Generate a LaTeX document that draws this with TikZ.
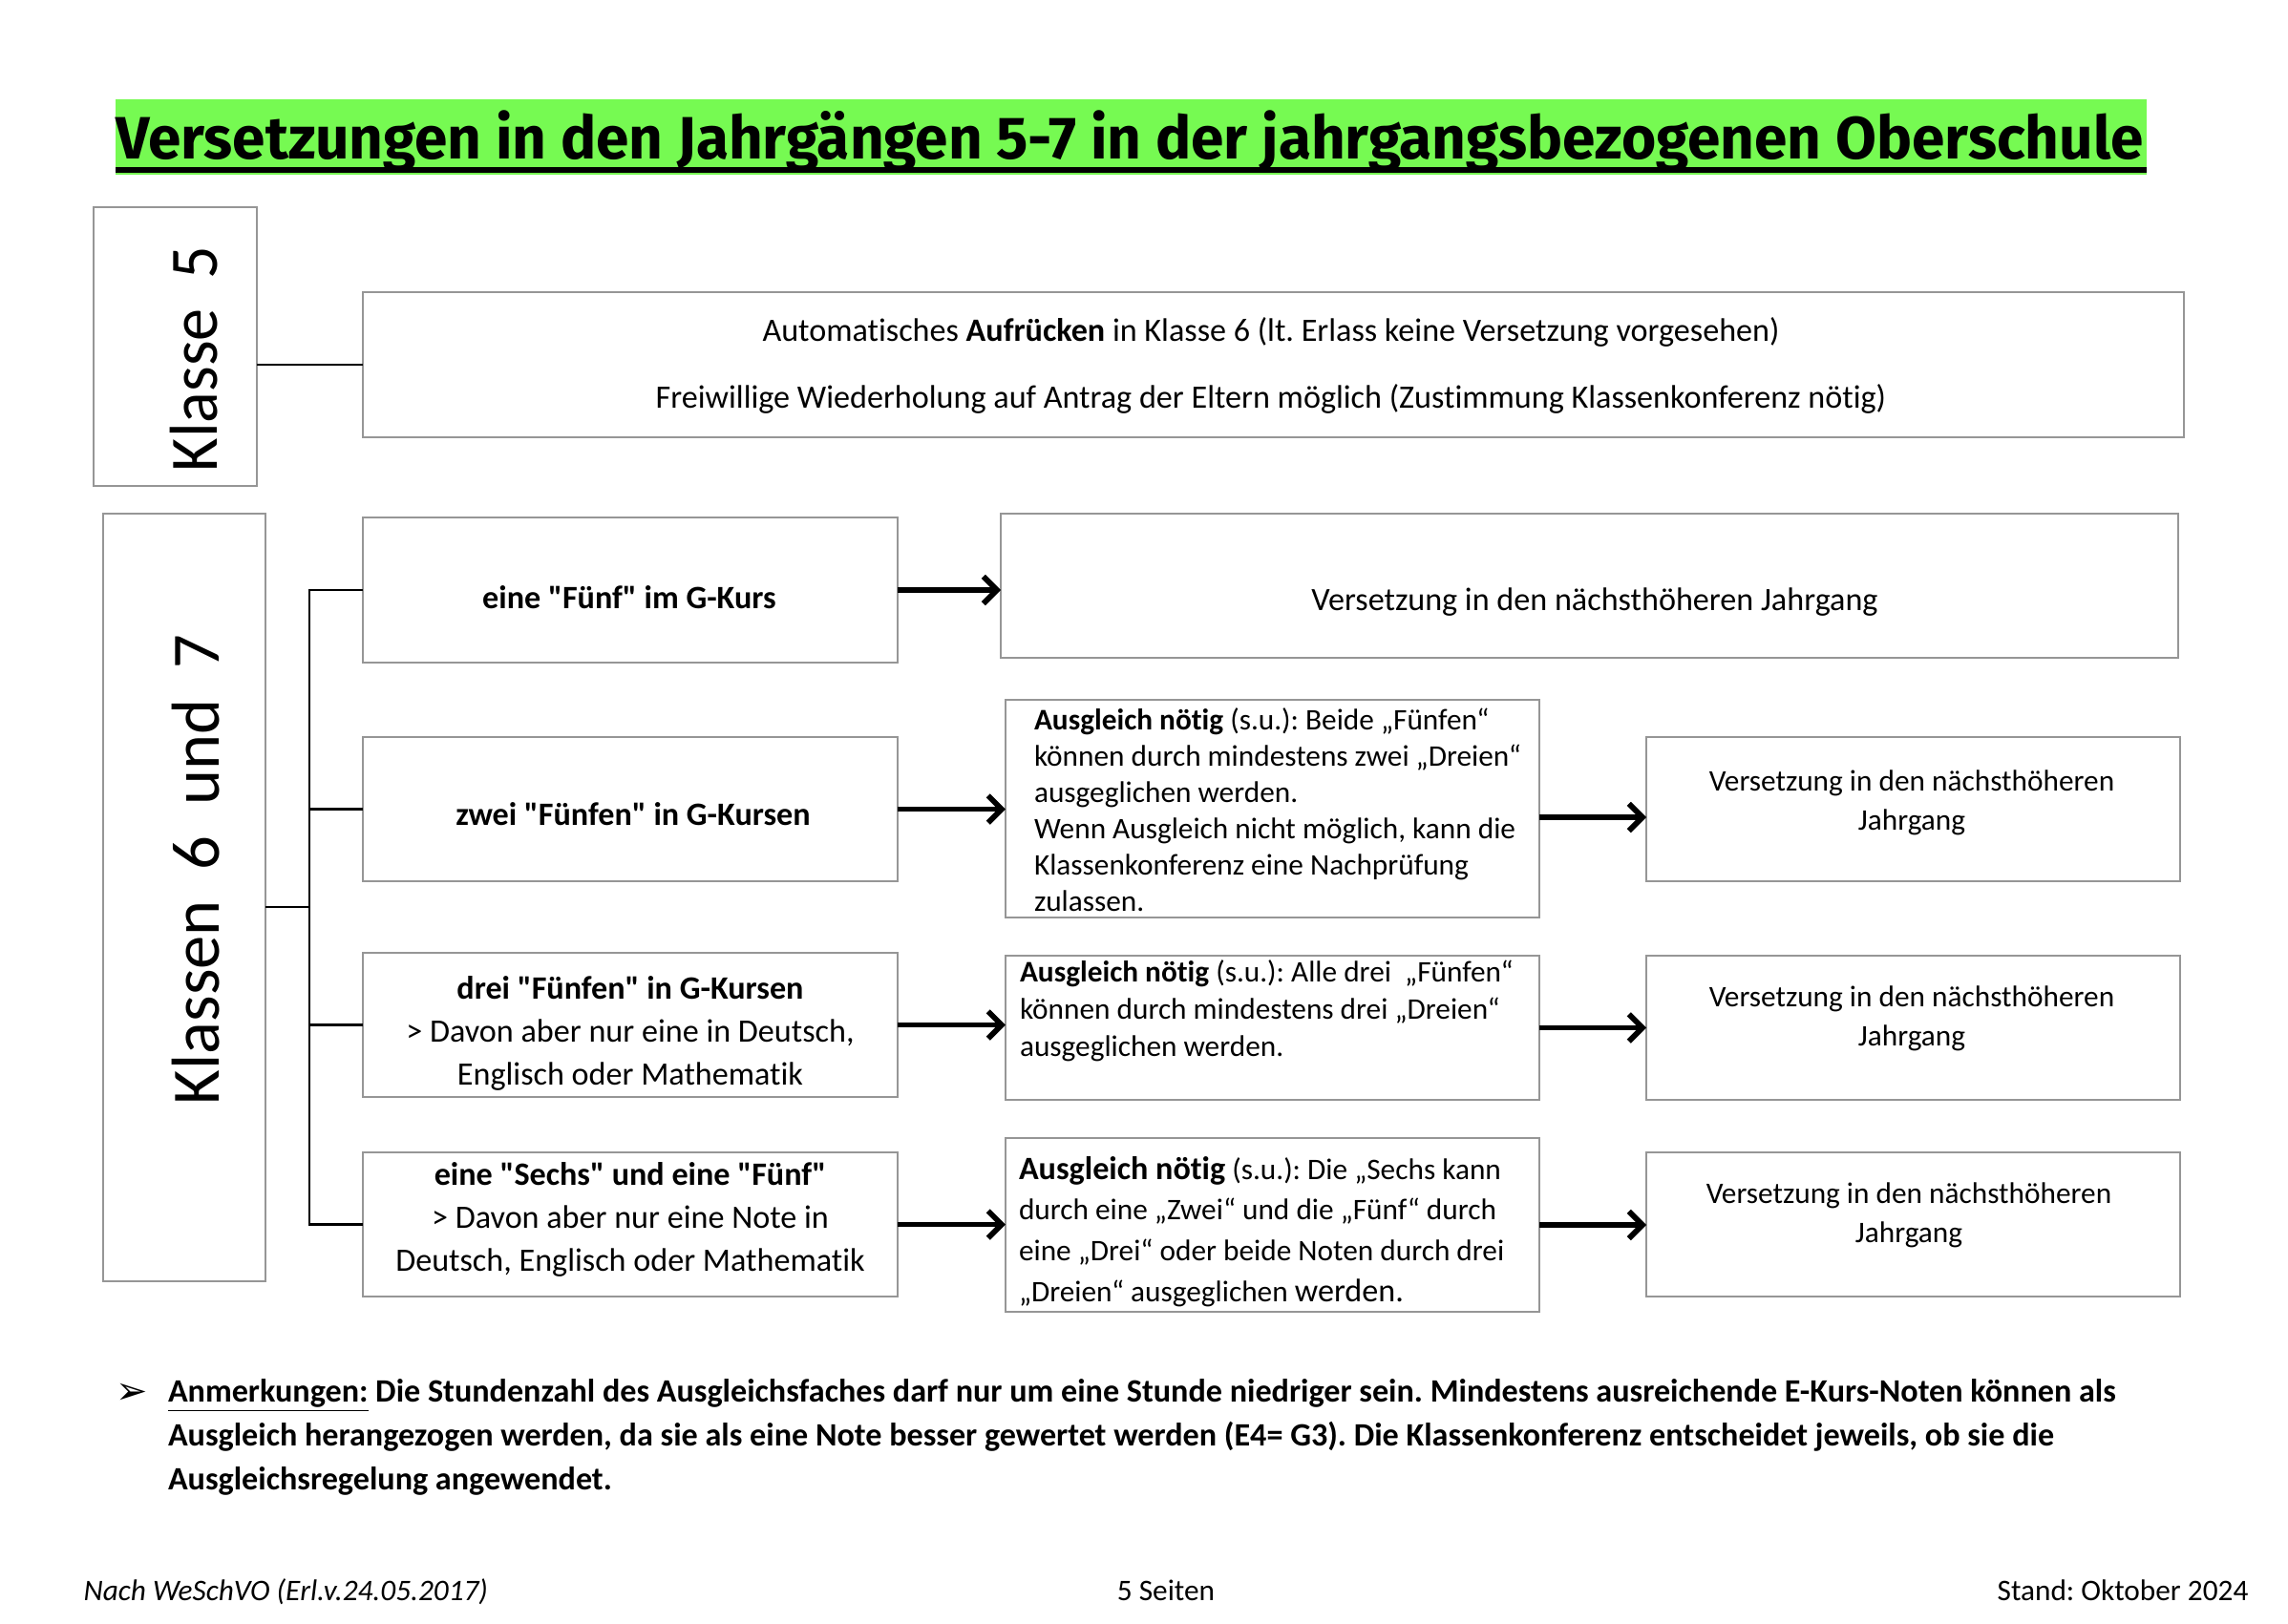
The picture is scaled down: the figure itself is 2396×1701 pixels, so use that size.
\documentclass[tikz,border=0pt]{standalone}
\usepackage{fontspec}
\usepackage{graphicx}
\setmainfont{Carlito}[Ligatures={TeXOff,CommonOff}]
\newfontfamily\titlefont{Fira Sans}
\newfontfamily\symfont{DejaVu Sans}
\usetikzlibrary{arrows.meta}
\definecolor{titlegreen}{RGB}{118,250,82}
\definecolor{bordergray}{RGB}{150,150,150}
\frenchspacing
\begin{document}
\frenchspacing
\begin{tikzpicture}[x=0.3514pt,y=-0.3514pt,
  bx/.style 2 args={draw=bordergray, line width=0.7pt, minimum width=#1*0.3514pt, minimum height=#2*0.3514pt, inner sep=0pt, outer sep=0pt},
  txt/.style={inner sep=0pt, outer sep=0pt, align=center},
  ltxt/.style={inner sep=0pt, outer sep=0pt, align=left, anchor=west},
  conn/.style={line width=1pt, black},
  arr/.style={line width=2pt, -{Straight Barb[length=5pt,width=10pt]}},
  klabel/.style={inner sep=0pt, outer sep=0pt, rotate=90, anchor=base, font=\fontsize{25}{28}\selectfont}
]
\useasboundingbox (0,0) rectangle (2396,1701);
\fill[white] (0,0) rectangle (2396,1701);

% title
\node[fill=titlegreen, minimum width=2127*0.3514pt, minimum height=79*0.3514pt, inner sep=0pt, outer sep=0pt] (band) at (1184.5,143.5) {};
\node[inner sep=0pt, anchor=base] (title) at (1183,166) {\resizebox{746pt}{\height}{\titlefont\bfseries\fontsize{22}{26}\selectfont Versetzungen in den Jahrgängen 5-7 in der jahrgangsbezogenen Oberschule}};
\coordinate (ulA) at (121,178);
\coordinate (ulB) at (2248,178);
\draw[line width=1.8pt] (ulA) -- (ulB);

% Klasse 5
\node[bx={171}{292}] (k5) at (183.5,363) {};
\node[klabel] (k5t) at (227,376) {\resizebox{83pt}{\height}{Klasse\ \ 5}};
\node[bx={1907}{152}] (k5r) at (1333.5,382) {};
\node[txt, font=\fontsize{12}{24.5}\selectfont] (k5rt) at (1331,383) {Automatisches \textbf{Aufrücken} in Klasse 6 (lt. Erlass keine Versetzung vorgesehen)\\Freiwillige Wiederholung auf Antrag der Eltern möglich (Zustimmung Klassenkonferenz nötig)};
\draw[conn] (k5r.west) -- (k5r.west -| k5.east);

% Klassen 6 und 7
\node[bx={170}{804}] (k67) at (193,940) {};
\node[klabel] (k67t) at (229,911) {\resizebox{173pt}{\height}{Klassen\ \ 6\ \ und\ \ 7}};

% left column
\node[bx={560}{152}] (l1) at (660,618) {};
\node[bx={560}{151}] (l2) at (660,847.5) {};
\node[bx={560}{151}] (l3) at (660,1073.5) {};
\node[bx={560}{151}] (l4) at (660,1282.5) {};
\node[txt, font=\fontsize{12}{14}\selectfont\bfseries] (l1t) at (659,626) {eine "Fünf" im G-Kurs};
\node[txt, font=\fontsize{12}{14}\selectfont\bfseries] (l2t) at (663,853) {zwei "Fünfen" in G-Kursen};
\node[txt, font=\fontsize{12}{15.8}\selectfont] (l3t) at (660,1082) {\textbf{drei "Fünfen" in G-Kursen}\\> Davon aber nur eine in Deutsch,\\Englisch oder Mathematik};
\node[txt, font=\fontsize{12}{15.8}\selectfont] (l4t) at (660,1277) {\textbf{eine "Sechs" und eine "Fünf"}\\> Davon aber nur eine Note in\\Deutsch, Englisch oder Mathematik};

% trunk
\coordinate (tr) at (324,950);
\draw[conn] (k67.east |- tr) -- (tr);
\draw[conn] (l1.west) -- (l1.west -| tr) -- (l4.west -| tr) -- (l4.west);
\draw[conn] (l2.west) -- (l2.west -| tr);
\draw[conn] (l3.west) -- (l3.west -| tr);

% row 1 result
\node[bx={1233}{151}] (r1) at (1664.5,613.5) {};
\node[txt, font=\fontsize{12}{14.5}\selectfont] (r1t) at (1670,631) {Versetzung in den nächsthöheren Jahrgang};

% middle column
\node[bx={559}{228}] (m2) at (1332.5,847) {};
\node[bx={559}{151}] (m3) at (1332.5,1076.5) {};
\node[bx={559}{182}] (m4) at (1332.5,1283) {};
\node[ltxt, font=\fontsize{11}{13.4}\selectfont] (m2t) at (1083,848) {\textbf{Ausgleich nötig} (s.u.): Beide „Fünfen“\\können durch mindestens zwei „Dreien“\\ausgeglichen werden.\\Wenn Ausgleich nicht möglich, kann die\\Klassenkonferenz eine Nachprüfung\\zulassen.};
\node[ltxt, font=\fontsize{11}{13.7}\selectfont] (m3t) at (1068,1059) {\textbf{Ausgleich nötig} (s.u.): Alle drei \ „Fünfen“\\können durch mindestens drei „Dreien“\\ausgeglichen werden.};
\node[ltxt, font=\fontsize{11}{15}\selectfont] (m4t) at (1067,1290) {{\fontsize{12}{15}\selectfont\textbf{Ausgleich nötig}} (s.u.): Die „Sechs kann\\durch eine „Zwei“ und die „Fünf“ durch\\eine „Drei“ oder beide Noten durch drei\\„Dreien“ ausgeglichen {\fontsize{12}{15}\selectfont werden.}};

% right column
\node[bx={559}{151}] (r2) at (2003.5,847.5) {};
\node[bx={559}{151}] (r3) at (2003.5,1076.5) {};
\node[bx={559}{151}] (r4) at (2003.5,1282.5) {};
\node[txt, font=\fontsize{11}{14.5}\selectfont] (r2t) at (2002,841) {Versetzung in den nächsthöheren\\Jahrgang};
\node[txt, font=\fontsize{11}{14.5}\selectfont] (r3t) at (2002,1067) {Versetzung in den nächsthöheren\\Jahrgang};
\node[txt, font=\fontsize{11}{14.5}\selectfont] (r4t) at (1999,1273) {Versetzung in den nächsthöheren\\Jahrgang};

% arrows
\draw[arr] (l1.east) -- (l1.east -| r1.west);
\draw[arr] (l2.east) -- (l2.east -| m2.west);
\draw[arr] (l3.east) -- (l3.east -| m3.west);
\draw[arr] (l4.east) -- (l4.east -| m4.west);
\draw[arr] ([yshift=-9*0.3514pt]m2.east) -- ([yshift=-9*0.3514pt]m2.east -| r2.west);
\draw[arr] (m3.east) -- (m3.east -| r3.west);
\draw[arr] (m4.east) -- (m4.east -| r4.west);

% remarks
\node[inner sep=0pt, font=\symfont\fontsize{14}{16}\selectfont] (bul) at (138,1460) {➢};
\node[ltxt, font=\fontsize{12}{16.2}\selectfont\bfseries] (rem) at (176,1505) {\underline{Anmerkungen:} Die Stundenzahl des Ausgleichsfaches darf nur um eine Stunde niedriger sein. Mindestens ausreichende E-Kurs-Noten können als\\Ausgleich herangezogen werden, da sie als eine Note besser gewertet werden (E4= G3). Die Klassenkonferenz entscheidet jeweils, ob sie die\\Ausgleichsregelung angewendet.};

% footer
\node[inner sep=0pt, anchor=base west, font=\fontsize{11}{13}\selectfont\itshape] (fl) at (87,1676) {Nach WeSchVO (Erl.v.24.05.2017)};
\node[inner sep=0pt, anchor=base, font=\fontsize{11}{13}\selectfont] (fc) at (1221,1676) {5 Seiten};
\node[inner sep=0pt, anchor=base east, font=\fontsize{11}{13}\selectfont] (fr) at (2355,1676) {Stand: Oktober 2024};
\end{tikzpicture}
\end{document}
